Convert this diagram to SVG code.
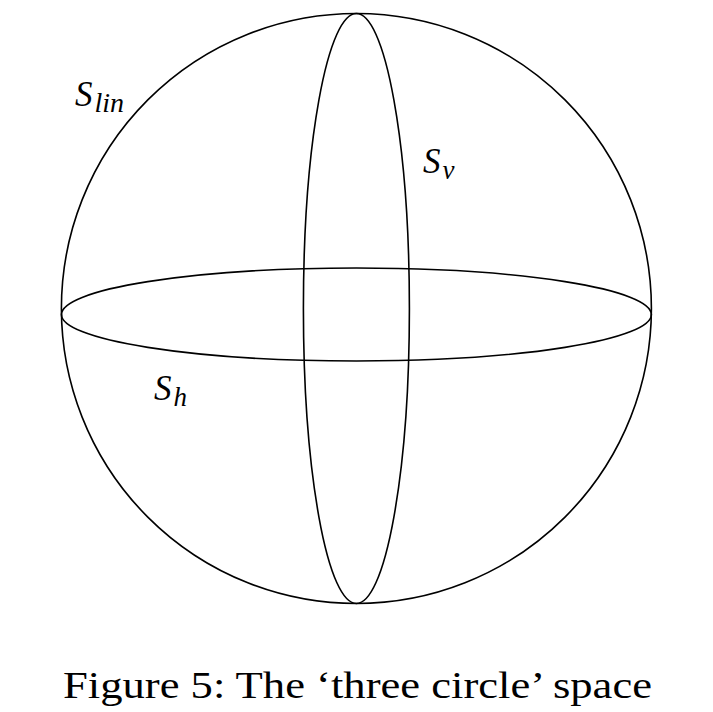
<svg xmlns="http://www.w3.org/2000/svg" width="713" height="712" viewBox="0 0 713 712">
<style>
.c{fill:none;stroke:#000;stroke-width:1.6}
.m{font-family:'Liberation Serif','Times New Roman',serif;font-style:italic;fill:#000}
.cap{font-family:'Liberation Serif','Times New Roman',serif;fill:#000;font-size:38px}
</style>
<rect width="713" height="712" fill="#fff"/>
<g id="connectors"></g>
<g id="s_lin">
<circle class="c" cx="356.4" cy="308.5" r="295"/>
<text class="m" x="75" y="106" font-size="35">S<tspan font-size="28" dx="2" dy="6">lin</tspan></text>
</g>
<g id="s_v">
<ellipse class="c" cx="356.4" cy="308.5" rx="53" ry="295"/>
<text class="m" x="423" y="173" font-size="35">S<tspan font-size="27" dx="2" dy="6">v</tspan></text>
</g>
<g id="s_h">
<ellipse class="c" cx="356.4" cy="314.5" rx="295" ry="46.5"/>
<text class="m" x="154" y="400" font-size="35">S<tspan font-size="27" dx="2" dy="6">h</tspan></text>
</g>
<g id="caption">
<text class="cap" x="63" y="698" textLength="589" lengthAdjust="spacingAndGlyphs">Figure 5: The ‘three circle’ space</text>
</g>
</svg>
